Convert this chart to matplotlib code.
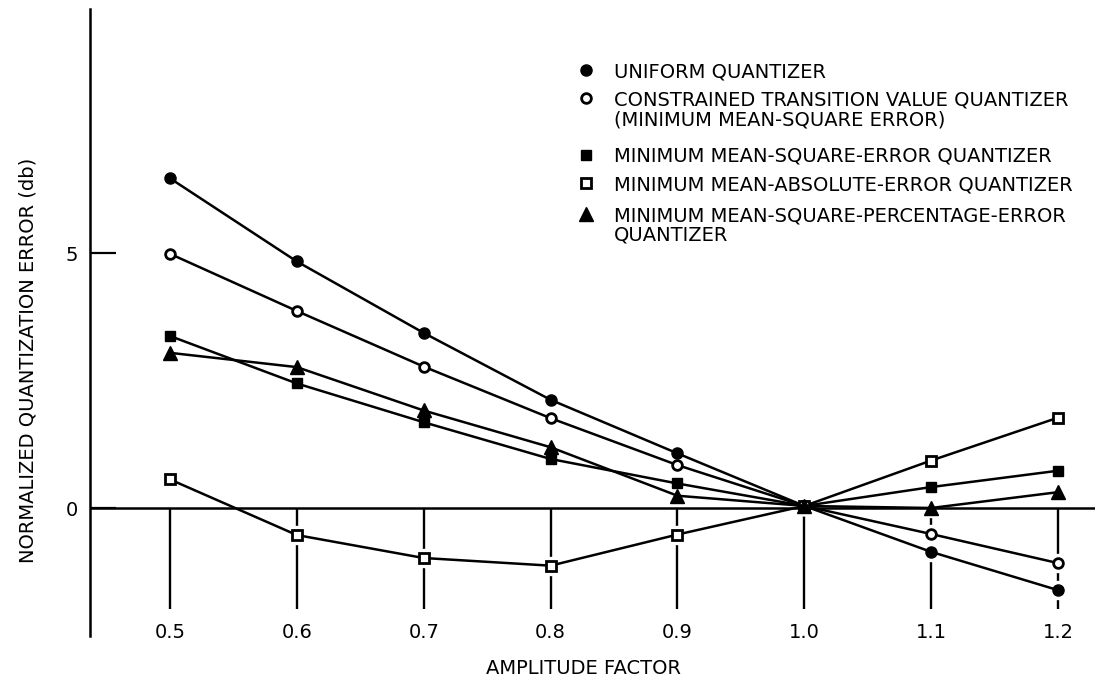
import matplotlib
matplotlib.use("Agg")
import matplotlib.pyplot as plt
from matplotlib.lines import Line2D

plt.rcParams['font.family'] = ['DejaVu Sans']

# ---- data ----
amplitude = [0.5, 0.6, 0.7, 0.8, 0.9, 1.0, 1.1, 1.2]
tick_labels = ['0.5', '0.6', '0.7', '0.8', '0.9', '1.0', '1.1', '1.2']
uniform = [6.47, 4.84, 3.44, 2.13, 1.08, 0.05, -0.85, -1.60]
constrained = [4.99, 3.87, 2.78, 1.77, 0.85, 0.05, -0.50, -1.07]
mmse = [3.38, 2.45, 1.69, 0.97, 0.49, 0.05, 0.42, 0.74]
mmae = [0.57, -0.52, -0.97, -1.12, -0.51, 0.05, 0.94, 1.78]
mmspe = [3.05, 2.77, 1.92, 1.20, 0.25, 0.05, 0.01, 0.32]
y_ticks = [0, 5]
y_tick_labels = ['0', '5']
legend_labels = [
    ['UNIFORM QUANTIZER'],
    ['CONSTRAINED TRANSITION VALUE QUANTIZER', '(MINIMUM MEAN-SQUARE ERROR)'],
    ['MINIMUM MEAN-SQUARE-ERROR QUANTIZER'],
    ['MINIMUM MEAN-ABSOLUTE-ERROR QUANTIZER'],
    ['MINIMUM MEAN-SQUARE-PERCENTAGE-ERROR', 'QUANTIZER'],
]

# ---- styles ----
INK = 'black'
series = [
    (uniform, dict(marker='o', ms=8, mfc=INK, mec=INK, mew=1.0)),
    (constrained, dict(marker='o', ms=7, mfc='white', mec=INK, mew=2.0)),
    (mmse, dict(marker='s', ms=7, mfc=INK, mec=INK, mew=1.0)),
    (mmae, dict(marker='s', ms=6.5, mfc='white', mec=INK, mew=2.0)),
    (mmspe, dict(marker='^', ms=10, mfc=INK, mec=INK, mew=1.0)),
]

W, H = 1095, 680
fig = plt.figure(figsize=(W / 100, H / 100), dpi=100)
ax = fig.add_axes([90 / W, 44 / H, 1005 / W, 627 / H])
ax.set_xlim(0.437, 1.2291)
ax.set_ylim(-2.498, 9.786)

for s in ['top', 'right', 'bottom']:
    ax.spines[s].set_visible(False)
ax.spines['left'].set_linewidth(1.8)
ax.spines['left'].set_color(INK)

ax.set_yticks(y_ticks, y_tick_labels)
ax.tick_params(axis='y', direction='in', length=18.7, width=1.6,
               pad=8.6, labelsize=14, colors=INK)
ax.set_xticks(amplitude, tick_labels)
ax.tick_params(axis='x', length=0, pad=-9.7, labelsize=14, colors=INK)

# drop lines below the zero axis
ax.vlines(amplitude, -1.97, 0, colors=INK, lw=1.7, zorder=1)
# white halos around markers (break the drop lines)
for vals, st in series:
    ax.plot(amplitude, vals, linestyle='none', marker='o', ms=14,
            mfc='white', mec='none', zorder=1.5)
# zero line
ax.axhline(0, color=INK, lw=1.8, zorder=2)

for vals, st in series:
    ax.plot(amplitude, vals, color=INK, lw=1.8, zorder=3, **st)

ax.set_xlabel('AMPLITUDE FACTOR', fontsize=14, color=INK)
ax.xaxis.label.set_va('center')
ax.xaxis.set_label_coords((584 - 90) / 1005, (636 - 669) / 627)

ax.set_ylabel('NORMALIZED QUANTIZATION ERROR (db)', fontsize=14, color=INK)
ax.yaxis.label.set_va('center')
ax.yaxis.set_label_coords((28 - 90) / 1005, (636 - 360.5) / 627)

# ---- legend (manual, in pixel layout) ----
marker_x = 586
text_x = 614
row_centers = [[70], [98.3, 118.3], [154.5], [183.3], [214, 233.5]]
for (vals, st), labels, rows in zip(series, legend_labels, row_centers):
    fig.add_artist(Line2D([marker_x / W], [1 - rows[0] / H],
                          transform=fig.transFigure, linestyle='none', **st))
    for lab, yc in zip(labels, rows):
        fig.text(text_x / W, 1 - (yc + 7.1) / H, lab, fontsize=14,
                 color=INK, ha='left', va='baseline')

fig.savefig('out.png', dpi=100)
